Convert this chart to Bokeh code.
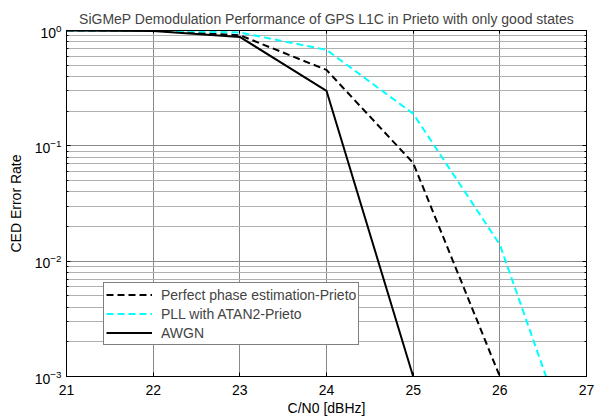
from bokeh.plotting import figure
from bokeh.models import (LinearAxis, FixedTicker, Legend, LegendItem, Range1d,
                          CustomJSTickFormatter)
from bokeh.embed import file_html
from bokeh.resources import INLINE

# ---- data ----
snr_db = [21, 22, 23, 24, 25, 26, 27]
perfect_phase = [1.0, 1.0, 0.91, 0.455, 0.071, 0.001]
pll_atan2 = [1.0, 1.0, 0.96, 0.68, 0.19, 0.0139, 0.0001]
awgn = [1.0, 0.99, 0.88, 0.30, 0.001]

series_labels = ["Perfect phase estimation-Prieto", "PLL with ATAN2-Prieto", "AWGN"]
title_text = "SiGMeP Demodulation Performance of GPS L1C in Prieto with only good states"
x_label = "C/N0 [dBHz]"
y_label = "CED Error Rate"
x_ticks = [21, 22, 23, 24, 25, 26, 27]
y_decades = [-3, -2, -1, 0]

y_major = [10.0 ** d for d in y_decades]
y_minor = [m * 10.0 ** d for d in y_decades[:-1] for m in range(2, 10)]

FONT = "Liberation Sans"
FS = "14px"

p = figure(width=598, height=418, x_range=Range1d(21, 27), y_range=Range1d(1e-3, 1),
           y_axis_type="log", output_backend="svg", toolbar_location=None,
           min_border_left=66, min_border_right=12, min_border_top=30, min_border_bottom=41,
           background_fill_color="white", border_fill_color="white")

p.title.text = title_text
p.title.align = "center"
p.title.text_font = FONT
p.title.text_font_size = "14px"
p.title.text_font_style = "normal"
p.title.standoff = 7

xt = FixedTicker(ticks=x_ticks, minor_ticks=[])
yt = FixedTicker(ticks=y_major, minor_ticks=y_minor)

xa = p.below[0]
ya = p.left[0]
xa.ticker = xt
ya.ticker = yt
for ax in (xa, ya):
    ax.major_tick_in = 4
    ax.major_tick_out = 0
    ax.minor_tick_in = 2
    ax.minor_tick_out = 0
    ax.axis_line_color = "black"
    ax.major_tick_line_color = "black"
    ax.minor_tick_line_color = "black"
    ax.major_label_text_font = FONT
    ax.major_label_text_font_size = FS
    ax.major_label_text_color = "black"
    ax.axis_label_text_font = FONT
    ax.axis_label_text_font_size = FS
    ax.axis_label_text_font_style = "normal"
    ax.axis_label_text_color = "black"
xa.major_label_standoff = 8
ya.major_label_standoff = 5
xa.axis_label = x_label
xa.axis_label_standoff = 2
ya.axis_label = y_label
ya.axis_label_standoff = 8

blank = CustomJSTickFormatter(code="return ''")
top = LinearAxis(ticker=xt, formatter=blank, major_tick_in=3, major_tick_out=0,
                 minor_tick_in=0, minor_tick_out=0, major_label_standoff=0,
                 axis_line_color="black")
right = LinearAxis(ticker=yt, formatter=blank, major_tick_in=4, major_tick_out=0,
                   minor_tick_in=2, minor_tick_out=0, major_label_standoff=0,
                   axis_line_color="black")
p.add_layout(top, "above")
p.add_layout(right, "right")

p.xgrid.ticker = xt
p.ygrid.ticker = yt
p.xgrid.grid_line_color = "#8a8a8a"
p.ygrid.grid_line_color = "#8a8a8a"
p.ygrid.minor_grid_line_color = "#b0b0b0"
p.outline_line_color = "black"

r1 = p.line(snr_db[:len(perfect_phase)], perfect_phase, line_color="black",
            line_width=2, line_dash="7 4")
r2 = p.line(snr_db[:len(pll_atan2)], pll_atan2, line_color="#00ffff",
            line_width=2, line_dash="7 4")
r3 = p.line(snr_db[:len(awgn)], awgn, line_color="black", line_width=2)

legend = Legend(items=[LegendItem(label=series_labels[0], renderers=[r1]),
                       LegendItem(label=series_labels[1], renderers=[r2]),
                       LegendItem(label=series_labels[2], renderers=[r3])],
                location=(37, 31), border_line_color="black", border_line_width=1,
                background_fill_color="white", background_fill_alpha=1.0,
                padding=2, spacing=0, margin=0, label_height=19, glyph_height=19,
                glyph_width=46, label_standoff=9,
                label_text_font=FONT, label_text_font_size="14px")
p.add_layout(legend)

open("out.html", "w").write(file_html(p, INLINE))
